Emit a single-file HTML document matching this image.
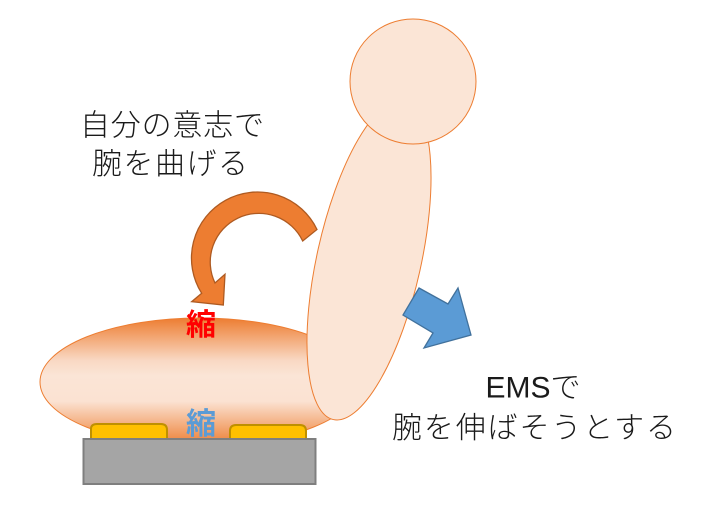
<!DOCTYPE html>
<html><head><meta charset="utf-8">
<style>
html,body{margin:0;padding:0;background:#fff;}
svg{display:block;}
.t{font-family:"Liberation Sans","Noto Sans CJK JP",sans-serif;font-size:30px;font-weight:300;fill:#1a1a1a;}
.k{font-family:"Liberation Sans","Noto Sans CJK JP",sans-serif;font-size:30px;font-weight:bold;}
</style></head>
<body>
<svg width="709" height="522" viewBox="0 0 709 522" xmlns="http://www.w3.org/2000/svg">
<defs>
<linearGradient id="g" x1="0" y1="0" x2="0" y2="1">
<stop offset="0" stop-color="#ED7D31"/>
<stop offset="0.33" stop-color="#F9D8C3"/>
<stop offset="0.45" stop-color="#FBE5D6"/>
<stop offset="0.65" stop-color="#FBE2D2"/>
<stop offset="1" stop-color="#ED7D31"/>
</linearGradient>
</defs>
<!-- forearm horizontal ellipse -->
<ellipse cx="200" cy="382" rx="160" ry="64" fill="url(#g)" stroke="#ED7D31" stroke-width="1"/>
<!-- upper arm -->
<ellipse cx="369" cy="260" rx="52" ry="163.5" transform="rotate(12.6 369 260)" fill="#FBE5D6" stroke="#ED7D31" stroke-width="1"/>
<!-- head circle -->
<ellipse cx="413" cy="81.5" rx="63" ry="62.5" fill="#FBE5D6" stroke="#ED7D31" stroke-width="1"/>
<!-- curved arrow -->
<path d="M317,229.5 A66,66 0 1 0 201.7,293.3 L191.7,301.7 L223.3,305 L225,274.3 L215,283 A47.5,47.5 0 1 1 302.7,241 Z" fill="#ED7D31" stroke="#AE5A21" stroke-width="1.3" stroke-linejoin="miter"/>
<!-- blue arrow -->
<polygon points="419,288 448,304 458,288 471,335 424,348 433,333 403,315" fill="#5B9BD5" stroke="#41719C" stroke-width="1.3"/>
<!-- pads -->
<path d="M91,440 L91,429 Q91,424 97,424 L161,424 Q167,424 167,430 L167,440 Z" fill="#FFC000" stroke="#BF9000" stroke-width="2"/>
<path d="M230,440 L230,431 Q230,425 236,425 L300,425 Q306,425 306,431 L306,440 Z" fill="#FFC000" stroke="#BF9000" stroke-width="2"/>
<!-- base -->
<rect x="83.5" y="439" width="232" height="45" fill="#A5A5A5" stroke="#7F7F7F" stroke-width="2"/>
<!-- labels -->
<text class="k" x="201" y="335" text-anchor="middle" fill="#FF0000">縮</text>
<text class="k" x="201" y="434" text-anchor="middle" fill="#5B9BD5">縮</text>
<text class="t" x="80" y="135.5" textLength="184" lengthAdjust="spacing">自分の意志で</text>
<text class="t" x="92" y="174" textLength="156" lengthAdjust="spacing">腕を曲げる</text>
<text class="t" x="485.5" y="397.5" textLength="95" lengthAdjust="spacing">EMSで</text>
<text class="t" x="392" y="438" textLength="284" lengthAdjust="spacing">腕を伸ばそうとする</text>
</svg>
</body></html>
